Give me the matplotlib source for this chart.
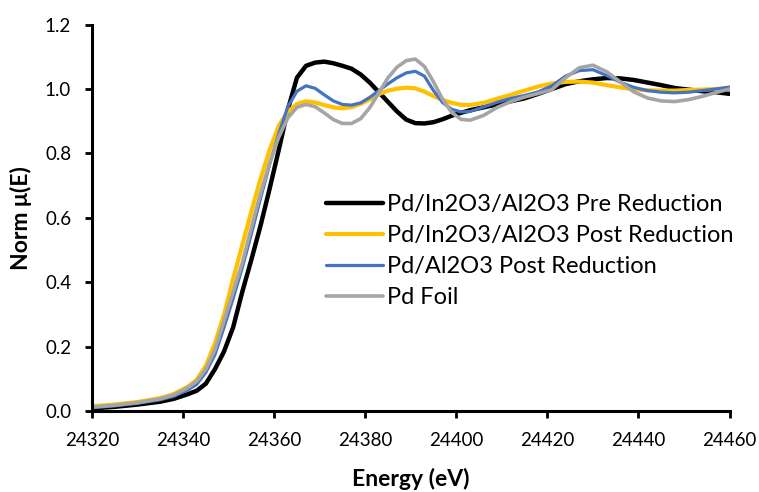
import matplotlib
matplotlib.use("Agg")
import matplotlib.pyplot as plt

plt.rcParams['font.family'] = ['Lato', 'DejaVu Sans']

# Energia (eV) comun a los cuatro espectros
energia = [24320, 24325, 24330, 24335, 24338, 24341, 24343, 24345, 24347, 24349,
           24351, 24353, 24355, 24357, 24359, 24361, 24363, 24365, 24367, 24369,
           24371, 24373, 24375, 24377, 24379, 24381, 24383, 24385, 24387, 24389,
           24391, 24393, 24395, 24397, 24399, 24401, 24403, 24406, 24409, 24412,
           24415, 24418, 24421, 24424, 24427, 24430, 24433, 24436, 24439, 24442,
           24445, 24448, 24451, 24454, 24457, 24460]

pre_reduccion = [0.008, 0.013, 0.020, 0.029, 0.038, 0.052, 0.063, 0.085, 0.130, 0.185,
                 0.260, 0.370, 0.470, 0.575, 0.690, 0.810, 0.935, 1.035, 1.072, 1.082,
                 1.085, 1.080, 1.072, 1.063, 1.045, 1.020, 0.990, 0.960, 0.930, 0.905,
                 0.894, 0.893, 0.897, 0.906, 0.917, 0.926, 0.934, 0.943, 0.952, 0.962,
                 0.971, 0.985, 1.000, 1.015, 1.024, 1.030, 1.034, 1.033, 1.028, 1.020,
                 1.012, 1.003, 0.998, 0.993, 0.990, 0.985]

post_reduccion_in = [0.015, 0.020, 0.028, 0.040, 0.053, 0.075, 0.097, 0.140, 0.210, 0.300,
                     0.410, 0.515, 0.620, 0.720, 0.810, 0.885, 0.930, 0.953, 0.962, 0.958,
                     0.950, 0.943, 0.940, 0.944, 0.954, 0.968, 0.984, 0.995, 1.001, 1.004,
                     1.002, 0.992, 0.978, 0.966, 0.957, 0.951, 0.950, 0.957, 0.970, 0.982,
                     0.995, 1.008, 1.017, 1.022, 1.023, 1.020, 1.012, 1.005, 0.999, 0.996,
                     0.995, 0.995, 0.997, 0.998, 1.000, 1.002]

post_reduccion_al = [0.010, 0.016, 0.024, 0.035, 0.046, 0.065, 0.083, 0.120, 0.175, 0.260,
                     0.350, 0.445, 0.550, 0.660, 0.765, 0.860, 0.945, 0.993, 1.010, 1.002,
                     0.982, 0.963, 0.952, 0.950, 0.957, 0.974, 0.995, 1.016, 1.035, 1.050,
                     1.055, 1.040, 0.995, 0.958, 0.937, 0.929, 0.930, 0.944, 0.959, 0.971,
                     0.980, 0.991, 1.010, 1.040, 1.057, 1.060, 1.042, 1.021, 1.005, 0.995,
                     0.990, 0.988, 0.990, 0.995, 1.000, 1.006]

lamina_pd = [0.012, 0.018, 0.026, 0.038, 0.050, 0.072, 0.092, 0.130, 0.190, 0.280,
             0.370, 0.460, 0.570, 0.675, 0.770, 0.850, 0.910, 0.943, 0.952, 0.945,
             0.926, 0.905, 0.893, 0.893, 0.908, 0.942, 0.988, 1.035, 1.068, 1.088,
             1.093, 1.070, 1.022, 0.968, 0.927, 0.906, 0.903, 0.918, 0.943, 0.961,
             0.975, 0.986, 0.998, 1.035, 1.066, 1.074, 1.054, 1.022, 0.991, 0.972,
             0.963, 0.961, 0.967, 0.977, 0.989, 1.000]

etiquetas = ["Pd/In2O3/Al2O3 Pre Reduction", "Pd/In2O3/Al2O3 Post Reduction",
             "Pd/Al2O3 Post Reduction", "Pd Foil"]
colores = ['#000000', '#FFC000', '#4472C4', '#A5A5A5']
grosores = [3.2, 3.0, 2.3, 2.6]

fig = plt.figure(figsize=(7.59, 4.92), dpi=100)
ax = fig.add_axes([92 / 759, 1 - 411 / 492, 637.5 / 759, 386.4 / 492])

series = [pre_reduccion, post_reduccion_in, post_reduccion_al, lamina_pd]
for datos, nombre, color, lw in zip(series, etiquetas, colores, grosores):
    ax.plot(energia, datos, color=color, lw=lw, label=nombre,
            solid_capstyle='round', solid_joinstyle='round')

ax.set_xlim(24320, 24460)
ax.set_ylim(0, 1.2)
ax.set_xticks(range(24320, 24461, 20))
ax.set_yticks([0, 0.2, 0.4, 0.6, 0.8, 1.0, 1.2])
ax.yaxis.set_major_formatter(matplotlib.ticker.FormatStrFormatter('%.1f'))

for lado in ['top', 'right']:
    ax.spines[lado].set_visible(False)
for lado in ['left', 'bottom']:
    ax.spines[lado].set_linewidth(2.2)
ax.tick_params(direction='out', length=5, width=2, labelsize=13.5, colors='black')
ax.tick_params(axis='x', pad=10)
ax.tick_params(axis='y', pad=10)

ax.set_xlabel("Energy (eV)", fontsize=16.5, fontweight='bold', labelpad=14)
ax.set_ylabel("Norm μ(E)", fontsize=16.5, fontweight='bold', labelpad=9)

ax.legend(loc='upper left', bbox_to_anchor=(0.367, 0.561), frameon=False,
          fontsize=17, handlelength=2.4, handletextpad=0.18, labelspacing=0.42,
          borderpad=0, borderaxespad=0)

fig.savefig("out.png", dpi=100)
